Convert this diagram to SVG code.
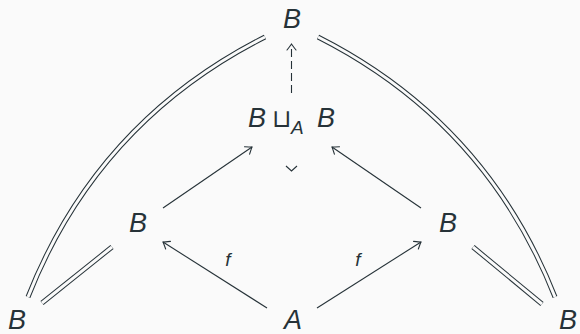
<svg xmlns="http://www.w3.org/2000/svg" width="580" height="334" viewBox="0 0 580 334">
<style>
.t{font-family:"Liberation Sans",Arial,sans-serif;font-style:italic;fill:#263238;font-size:27px}
.l{font-family:"Liberation Sans",Arial,sans-serif;font-style:italic;fill:#263238;font-size:19px}
.a{fill:none;stroke:#263238;stroke-width:1.1}
.d1{fill:none;stroke:#263238;stroke-width:5}
.d2{fill:none;stroke:#fafafa;stroke-width:3}
</style>
<defs>
<marker id="ah" viewBox="-10 -6 12 12" refX="0" refY="0" markerWidth="12" markerHeight="12" markerUnits="userSpaceOnUse" orient="auto">
<path d="M-6,-4.5 Q-1.5,-1 0,0 Q-1.5,1 -6,4.5" fill="none" stroke="#263238" stroke-width="1.1" stroke-linecap="round"/>
</marker>
</defs>
<rect width="580" height="334" fill="#fafafa"/>
<g id="connectors">
<path class="d1" d="M28,297 Q97,122 265,37"/>
<path class="d2" d="M28,297 Q97,122 265,37"/>
<path class="d1" d="M555,297 Q486,122 318,37"/>
<path class="d2" d="M555,297 Q486,122 318,37"/>
<path class="d1" d="M112,247 L42,303"/>
<path class="d2" d="M112,247 L42,303"/>
<path class="d1" d="M473,247 L542,304"/>
<path class="d2" d="M473,247 L542,304"/>
<path class="a" d="M291.5,93 L291.5,44" stroke="#4a5a60" stroke-dasharray="8,4" marker-end="url(#ah)"/>
<path class="a" d="M163,208 L252,147" marker-end="url(#ah)"/>
<path class="a" d="M421,208 L332,147" marker-end="url(#ah)"/>
<path class="a" d="M267,308 L163,242" marker-end="url(#ah)"/>
<path class="a" d="M317,308 L421,242" marker-end="url(#ah)"/>
<path class="a" d="M286,166 L291.5,171 L297,166"/>
<text class="l" x="228" y="266" text-anchor="middle">f</text>
<text class="l" x="358" y="266" text-anchor="middle">f</text>
</g>
<g id="top"><text class="t" x="292" y="28" text-anchor="middle">B</text></g>
<g id="pushout"><text class="t" x="248" y="127">B</text><text x="272" y="127" font-family="DejaVu Sans,sans-serif" font-weight="200" font-size="25" fill="#263238">⊔</text><text class="l" x="291" y="134">A</text><text class="t" x="317" y="127">B</text></g>
<g id="left"><text class="t" x="138" y="232" text-anchor="middle">B</text></g>
<g id="right"><text class="t" x="448" y="232" text-anchor="middle">B</text></g>
<g id="bl"><text class="t" x="17" y="329" text-anchor="middle">B</text></g>
<g id="a"><text class="t" x="293" y="329" text-anchor="middle">A</text></g>
<g id="br"><text class="t" x="568" y="329" text-anchor="middle">B</text></g>
</svg>
